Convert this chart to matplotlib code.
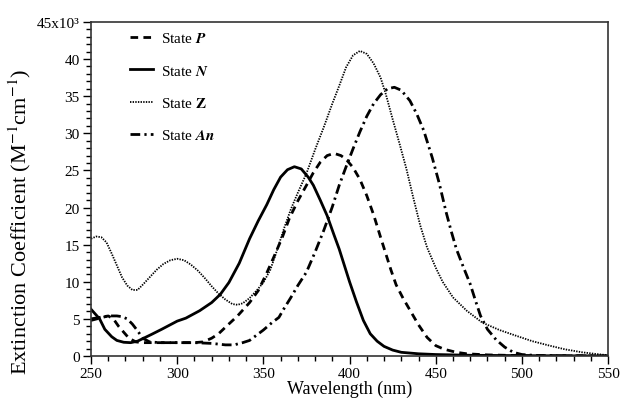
import matplotlib
matplotlib.use("Agg")
import matplotlib.pyplot as plt
from matplotlib.ticker import MultipleLocator, FixedLocator

plt.rcParams['font.family'] = ['Liberation Serif', 'DejaVu Serif']
plt.rcParams['mathtext.fontset'] = 'stix'
plt.rcParams['lines.scale_dashes'] = False

# State N (solid)
wl_N = [250, 255, 258, 262, 265, 269, 273, 277, 285, 291, 300, 305, 313, 320, 325, 330, 336, 342,
        347, 352, 356, 360, 364, 368, 372, 376, 379, 383, 387, 391, 394, 397, 400, 404, 408, 412,
        416, 420, 425, 430, 440, 450, 470, 500, 550]
eps_N = [6.3, 5.0, 3.6, 2.6, 2.1, 1.85, 1.8, 2.0, 2.9, 3.6, 4.7, 5.1, 6.1, 7.2, 8.3, 9.9, 12.5, 15.8,
         18.2, 20.4, 22.4, 24.1, 25.1, 25.5, 25.2, 24.1, 23.0, 21.0, 18.9, 16.3, 14.4, 12.2, 10.0, 7.3,
         4.8, 3.0, 2.0, 1.3, 0.8, 0.5, 0.3, 0.2, 0.1, 0.05, 0.0]

# State Z (dotted)
wl_Z = [250, 253, 256, 259, 262, 265, 268, 271, 274, 277, 280, 284, 288, 292, 296, 300, 304, 308,
        312, 316, 320, 324, 328, 332, 335, 338, 342, 346, 350, 354, 358, 362, 366, 370, 375, 380,
        385, 390, 394, 398, 402, 406, 410, 414, 418, 421, 425, 429, 433, 437, 441, 445, 450, 454,
        460, 468, 477, 487, 497, 506, 516, 525, 535, 542, 550]
eps_Z = [15.8, 16.1, 16.0, 15.3, 13.8, 12.2, 10.6, 9.5, 8.9, 8.9, 9.6, 10.6, 11.6, 12.4, 12.9, 13.1,
         12.9, 12.3, 11.5, 10.5, 9.4, 8.4, 7.6, 7.0, 6.9, 7.1, 7.8, 8.8, 9.9, 11.6, 14.3, 17.2, 19.8,
         22.0, 24.6, 27.8, 30.8, 34.0, 36.4, 38.9, 40.5, 41.1, 40.7, 39.4, 37.5, 35.3, 31.9, 28.6,
         25.2, 21.3, 17.6, 14.6, 11.9, 10.0, 7.9, 6.1, 4.5, 3.5, 2.7, 2.0, 1.4, 0.9, 0.5, 0.3, 0.1]

# State P (dashed)
wl_P = [250, 255, 260, 263, 266, 269, 272, 276, 280, 290, 300, 310, 315, 320, 324, 329, 335, 342,
        347, 352, 356, 361, 365, 370, 375, 379, 383, 387, 391, 395, 398, 402, 406, 410, 414, 418,
        421, 424, 427, 431, 435, 440, 445, 450, 455, 462, 468, 480, 500, 550]
eps_P = [4.8, 5.1, 5.4, 5.0, 4.0, 3.2, 2.4, 1.9, 1.8, 1.8, 1.8, 1.8, 1.9, 2.4, 3.0, 4.1, 5.4, 7.2,
         8.8, 11.2, 13.3, 16.0, 18.5, 20.9, 23.0, 24.7, 26.1, 27.0, 27.3, 27.0, 26.5, 25.4, 23.8,
         21.6, 19.0, 16.0, 13.8, 11.6, 9.6, 7.8, 6.2, 4.2, 2.5, 1.4, 0.9, 0.5, 0.3, 0.15, 0.05, 0.0]

# State An (dash-dot)
wl_An = [250, 255, 260, 265, 268, 271, 274, 277, 280, 284, 290, 300, 310, 320, 328, 333, 338, 342,
         346, 350, 355, 359, 362, 366, 370, 375, 380, 385, 390, 394, 398, 402, 406, 410, 414, 418,
         422, 426, 430, 435, 439, 443, 448, 452, 456, 459, 462, 466, 470, 473, 476, 480, 485, 490,
         495, 500, 510, 550]
eps_An = [5.0, 5.2, 5.4, 5.4, 5.3, 5.0, 4.3, 3.4, 2.4, 1.9, 1.8, 1.8, 1.8, 1.7, 1.5, 1.5, 1.8, 2.1,
          2.8, 3.5, 4.5, 5.2, 6.4, 7.9, 9.5, 11.3, 14.0, 16.9, 20.1, 23.0, 25.5, 27.9, 30.2, 32.3,
          34.0, 35.2, 36.0, 36.2, 35.8, 34.4, 32.6, 30.4, 26.7, 23.3, 19.4, 16.8, 14.4, 12.0, 9.7,
          7.5, 5.4, 3.6, 2.2, 1.2, 0.5, 0.2, 0.05, 0.0]

labels = [r"State $\mathbfit{P}$", r"State $\mathbfit{N}$", r"State $\mathbf{Z}$", r"State $\mathbfit{An}$"]
ytick_vals = [0, 5, 10, 15, 20, 25, 30, 35, 40, 45]
ytick_labels = ['0', '5', '10', '15', '20', '25', '30', '35', '40', '45x10³']
xtick_vals = [250, 300, 350, 400, 450, 500, 550]

fig = plt.figure(figsize=(6.2, 4.02), dpi=100)
ax = fig.add_axes([0.1468, 0.1119, 0.834, 0.831])

ax.plot(wl_P, eps_P, color='black', lw=2.0, dashes=(5.5, 3.8), label=labels[0])
ax.plot(wl_N, eps_N, color='black', lw=2.0, ls='-', label=labels[1])
ax.plot(wl_Z, eps_Z, color='black', lw=1.3, dashes=(1.0, 0.9), label=labels[2])
ax.plot(wl_An, eps_An, color='black', lw=2.0, dashes=(7, 3, 1.6, 3), label=labels[3])

ax.set_xlim(250, 550)
ax.set_ylim(0, 45)
ax.xaxis.set_major_locator(FixedLocator(xtick_vals))
ax.xaxis.set_minor_locator(MultipleLocator(10))
ax.yaxis.set_major_locator(FixedLocator(ytick_vals))
ax.set_yticklabels(ytick_labels)
ax.yaxis.set_minor_locator(MultipleLocator(1))
ax.tick_params(which='both', direction='out', top=False, right=False, labelsize=11, width=1.0)
ax.tick_params(which='major', length=6)
ax.tick_params(which='minor', length=3.5)
ax.tick_params(axis='x', which='major', pad=2)
ax.tick_params(axis='y', which='major', pad=2)
for s in ax.spines.values():
    s.set_linewidth(1.2)
    s.set_color('#333333')
ax.set_xlabel('Wavelength (nm)', fontsize=13, labelpad=0)
ax.set_ylabel(r'Extinction Coefficient (M$^{-1}$cm$^{-1}$)', fontsize=16)
ax.yaxis.set_label_coords(-0.112, 0.404)

ax.legend(loc='upper left', bbox_to_anchor=(0.075, 0.972), frameon=False, fontsize=11,
          handlelength=1.5, handletextpad=0.55, labelspacing=1.2, borderpad=0, borderaxespad=0)

fig.savefig('out.png', dpi=100)
